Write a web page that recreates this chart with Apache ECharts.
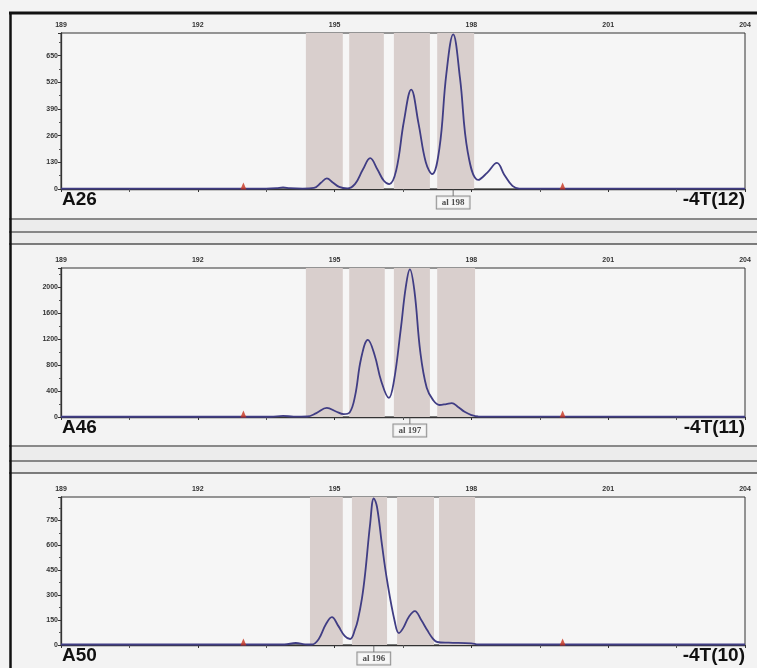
<!DOCTYPE html>
<html>
<head>
<meta charset="utf-8">
<script src="https://cdn.jsdelivr.net/npm/echarts@6/dist/echarts.min.js"></script>
<style>
html,body{margin:0;padding:0;background:#f3f3f3;}
#c{width:757px;height:668px;}
</style>
</head>
<body>
<div id="c"></div>
<script>
// ---- data ----
var sampleNames = ['A26', 'A46', 'A50'];
var markerNames = ['-4T(12)', '-4T(11)', '-4T(10)'];
var alleleLabels = ['al 198', 'al 197', 'al 196'];
var alleleX = [197.6, 196.65, 195.86];

var yMax = [760, 2300, 890];
var yInterval = [130, 400, 150];

var p1X = [189, 193.5, 193.72, 193.87, 194.02, 194.3, 194.55, 194.7, 194.83, 194.96, 195.1, 195.28, 195.45, 195.62, 195.78, 195.94, 196.08, 196.2, 196.35, 196.52, 196.68, 196.84, 197.0, 197.14, 197.3, 197.45, 197.6, 197.75, 197.92, 198.15, 198.35, 198.56, 198.72, 198.9, 199.05, 204];
var p1Y = [2, 2, 4, 8, 4, 2, 5, 30, 52, 32, 10, 3, 25, 95, 150, 95, 40, 24, 90, 330, 484, 320, 130, 73, 200, 560, 753, 540, 180, 44, 80, 127, 70, 15, 2, 2];

var p2X = [189, 193.6, 193.87, 194.1, 194.4, 194.6, 194.83, 195.03, 195.2, 195.33, 195.45, 195.58, 195.73, 195.88, 196.02, 196.19, 196.3, 196.45, 196.56, 196.65, 196.75, 196.88, 197.02, 197.16, 197.3, 197.45, 197.57, 197.7, 197.85, 198.0, 198.15, 204];
var p2Y = [4, 4, 18, 5, 8, 60, 140, 85, 45, 70, 330, 900, 1190, 950, 560, 295, 550, 1350, 2000, 2280, 1950, 1000, 450, 260, 185, 200, 215, 160, 80, 30, 8, 4];

var p3X = [189, 193.9, 194.15, 194.35, 194.5, 194.65, 194.8, 194.94, 195.08, 195.22, 195.34, 195.45, 195.51, 195.6, 195.67, 195.78, 195.86, 195.93, 196.04, 196.15, 196.32, 196.41, 196.5, 196.63, 196.76, 196.9, 197.03, 197.15, 197.25, 197.5, 198.0, 198.15, 204];
var p3Y = [3, 3, 12, 4, 3, 35, 120, 168, 115, 55, 36, 95, 150, 280, 430, 730, 882, 830, 600, 390, 140, 72, 100, 170, 204, 150, 90, 40, 18, 14, 10, 3, 3];

var bands1 = [[194.37, 195.18], [195.32, 196.08], [196.3, 197.09], [197.25, 198.06]];
var bands2 = [[194.37, 195.18], [195.32, 196.1], [196.3, 197.09], [197.25, 198.08]];
var bands3 = [[194.46, 195.18], [195.38, 196.15], [196.37, 197.18], [197.29, 198.08]];

var markerTriangles = [193, 200];

var xMin = 189, xMax = 204, xInterval = 3;

// ---- build ----
var panelsX = [p1X, p2X, p3X];
var panelsY = [p1Y, p2Y, p3Y];
var panelsBands = [bands1, bands2, bands3];
var gridTops = [33, 268, 497];
var gridHeights = [156, 149, 148];

function zip(a, b) { return a.map(function (v, i) { return [v, b[i]]; }); }

var grids = [], xAxes = [], yAxes = [], series = [], graphics = [];
for (var i = 0; i < 3; i++) {
  grids.push({left: 61, top: gridTops[i], width: 684, height: gridHeights[i], show: true, borderColor: '#333', borderWidth: 1, backgroundColor: '#f6f6f6'});
  xAxes.push({
    type: 'value', gridIndex: i, position: 'top', min: xMin, max: xMax, interval: xInterval,
    axisLine: {show: true, lineStyle: {color: '#333', width: 1.3}},
    axisTick: {show: true, inside: true, length: 3, lineStyle: {color: '#333'}},
    minorTick: {show: true, splitNumber: 2, length: 3, lineStyle: {color: '#555'}},
    axisLabel: {fontSize: 7, color: '#333', margin: 4, fontFamily: 'Liberation Sans', fontWeight: 'bold'},
    splitLine: {show: false}
  });
  yAxes.push({
    type: 'value', gridIndex: i, min: 0, max: yMax[i], interval: yInterval[i],
    axisLine: {show: true, lineStyle: {color: '#333', width: 1.3}},
    axisTick: {show: true, length: 3, lineStyle: {color: '#333'}},
    minorTick: {show: true, splitNumber: 2, length: 2, lineStyle: {color: '#555'}},
    axisLabel: {fontSize: 7, color: '#333', margin: 3, showMaxLabel: false, fontFamily: 'Liberation Sans', fontWeight: 'bold',
      formatter: (function (iv) { return function (v) { return (v % iv === 0) ? String(v) : ''; }; })(yInterval[i])},
    splitLine: {show: false}
  });
  series.push({
    type: 'line', xAxisIndex: i, yAxisIndex: i, data: zip(panelsX[i], panelsY[i]),
    smooth: 0.4, showSymbol: false, symbol: 'none',
    lineStyle: {color: '#403d84', width: 1.8},
    markArea: {silent: true, itemStyle: {color: '#d9cfcd'},
      data: panelsBands[i].map(function (b) { return [{xAxis: b[0]}, {xAxis: b[1]}]; })},
    z: 3
  });
  series.push({
    type: 'scatter', xAxisIndex: i, yAxisIndex: i, clip: false,
    data: markerTriangles.map(function (x) { return [x, 0]; }),
    symbol: 'triangle', symbolSize: [6, 7], symbolOffset: [0, -3],
    itemStyle: {color: '#c8341f'}, z: 4
  });
  series.push({
    type: 'scatter', xAxisIndex: i, yAxisIndex: i, clip: false,
    data: [[alleleX[i], 0]],
    symbol: 'rect', symbolSize: [1, 7], symbolOffset: [0, 4],
    itemStyle: {color: '#555'},
    label: {show: true, position: 'bottom', distance: 0, formatter: alleleLabels[i],
      fontSize: 9, color: '#222', fontFamily: 'Liberation Serif', fontWeight: 'bold', backgroundColor: '#f7f7f7',
      borderColor: '#777', borderWidth: 1, padding: [2, 5, 1, 5]},
    z: 5
  });
  graphics.push({type: 'text', left: 62, top: gridTops[i] + gridHeights[i] + 1,
    style: {text: sampleNames[i], font: 'bold 19px "Liberation Sans"', fill: '#111'}});
  graphics.push({type: 'text', right: 12, top: gridTops[i] + gridHeights[i] + 1,
    style: {text: markerNames[i], font: 'bold 19px "Liberation Sans"', fill: '#111'}});
}

// frame lines (scanned printout borders)
var hLines = [[13, 3, '#111'], [219, 1.5, '#666'], [232, 1.5, '#666'], [244, 1.5, '#555'], [446, 1.5, '#666'], [461, 1.5, '#666'], [473, 1.5, '#555']];
hLines.forEach(function (h) {
  graphics.push({type: 'line', shape: {x1: 9, y1: h[0], x2: 757, y2: h[0]}, style: {stroke: h[2], lineWidth: h[1]}, z: 10});
});
graphics.push({type: 'rect', shape: {x: 10, y: 220, width: 747, height: 24}, style: {fill: '#ececec'}, z: 1});
graphics.push({type: 'rect', shape: {x: 10, y: 447, width: 747, height: 26}, style: {fill: '#ececec'}, z: 1});
graphics.push({type: 'line', shape: {x1: 10.5, y1: 12, x2: 10.5, y2: 668}, style: {stroke: '#111', lineWidth: 2.5}, z: 10});

var chart = echarts.init(document.getElementById('c'));
chart.setOption({
  backgroundColor: '#f3f3f3',
  animation: false,
  grid: grids, xAxis: xAxes, yAxis: yAxes, series: series,
  graphic: graphics
});
</script>
</body>
</html>
